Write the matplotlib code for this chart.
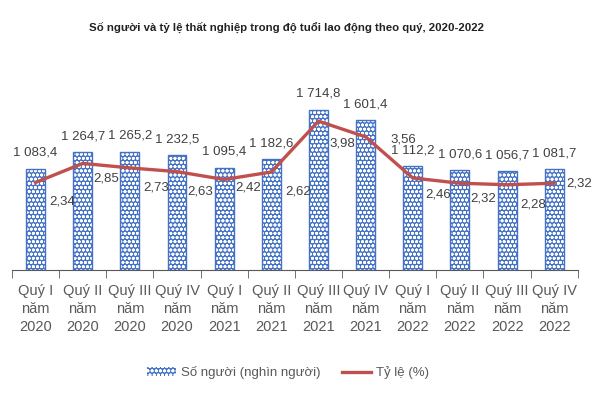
import matplotlib
matplotlib.use("Agg")
import matplotlib.pyplot as plt
from matplotlib.patches import Patch
from matplotlib.lines import Line2D

quarters = ["Quý I\nnăm\n2020", "Quý II\nnăm\n2020", "Quý III\nnăm\n2020", "Quý IV\nnăm\n2020",
            "Quý I\nnăm\n2021", "Quý II\nnăm\n2021", "Quý III\nnăm\n2021", "Quý IV\nnăm\n2021",
            "Quý I\nnăm\n2022", "Quý II\nnăm\n2022", "Quý III\nnăm\n2022", "Quý IV\nnăm\n2022"]
so_nguoi = [1083.4, 1264.7, 1265.2, 1232.5, 1095.4, 1182.6,
            1714.8, 1601.4, 1112.2, 1070.6, 1056.7, 1081.7]
ty_le = [2.34, 2.85, 2.73, 2.63, 2.42, 2.62, 3.98, 3.56, 2.46, 2.32, 2.28, 2.32]

BLUE = "#4472C4"
RED = "#C0504D"
TEXT = "#404040"
FONT = ["Liberation Sans", "DejaVu Sans"]

plt.rcParams["hatch.linewidth"] = 0.9


def fmt_vn(v):
    s = f"{v:,.1f}"
    return s.replace(",", " ").replace(".", ",")


fig = plt.figure(figsize=(6, 4), dpi=100)
ax = fig.add_axes([0.02, 0.325, 0.943, 0.4675])
ax2 = ax.twinx()

x = list(range(len(quarters)))
# hatched dotted fill, then outline
ax.bar(x, so_nguoi, width=0.4, color=BLUE, edgecolor="white", hatch="oooo", linewidth=0, zorder=2)
ax.bar(x, so_nguoi, width=0.4, fill=False, edgecolor=BLUE, linewidth=1.0, zorder=3)
ax.set_ylim(0, 2000)
ax.set_xlim(-0.5, len(x) - 0.5)

for xi, v in zip(x, so_nguoi):
    ax.annotate(fmt_vn(v), (xi, v), xytext=(0, 7), textcoords="offset points",
                ha="center", va="bottom", fontsize=9.5, color=TEXT, family=FONT)

ax2.plot(x, ty_le, color=RED, linewidth=2.4, zorder=4)
ax2.set_ylim(0, 5)
ax2.axis("off")

offsets = [(19, -14), (17, -11), (19, -14), (17, -14), (17, -6), (19, -14),
           (17, -16), (27, -2), (18, -12), (17, -11), (19, -14), (18, 0)]
for xi, v, (dx, dy) in zip(x, ty_le, offsets):
    ax2.annotate(f"{v:.2f}".replace(".", ","), (xi, v), xytext=(dx, dy), textcoords="offset points",
                 ha="center", va="center", fontsize=9.5, color=TEXT, family=FONT, zorder=5)

for s in ["top", "left", "right"]:
    ax.spines[s].set_visible(False)
ax.spines["bottom"].set_color("#595959")
ax.set_yticks([])
ax.set_xticks(x)
ax.set_xticklabels(quarters, fontsize=10.5, color="#595959", family=FONT, linespacing=1.35)
ax.tick_params(axis="x", which="major", length=0, pad=10)
ax.set_xticks([i - 0.5 for i in range(len(x) + 1)], minor=True)
ax.tick_params(axis="x", which="minor", length=6, color="#595959")

fig.text(0.478, 0.93, "Số người và tỷ lệ thất nghiệp trong độ tuổi lao động theo quý, 2020-2022",
         ha="center", va="center", fontsize=8.2, fontweight="bold", color="#222222", family=FONT)

handles = [Patch(facecolor=BLUE, edgecolor="white", hatch="oooo", linewidth=0),
           Line2D([0], [0], color=RED, linewidth=2.4)]
fig.legend(handles, ["Số người (nghìn người)", "Tỷ lệ (%)"], loc="center", bbox_to_anchor=(0.48, 0.068),
           ncol=2, frameon=False, prop={"family": FONT, "size": 9.5}, labelcolor="#595959",
           handlelength=2.2, handletextpad=0.4, columnspacing=1.6)

fig.savefig("out.png", dpi=100)
